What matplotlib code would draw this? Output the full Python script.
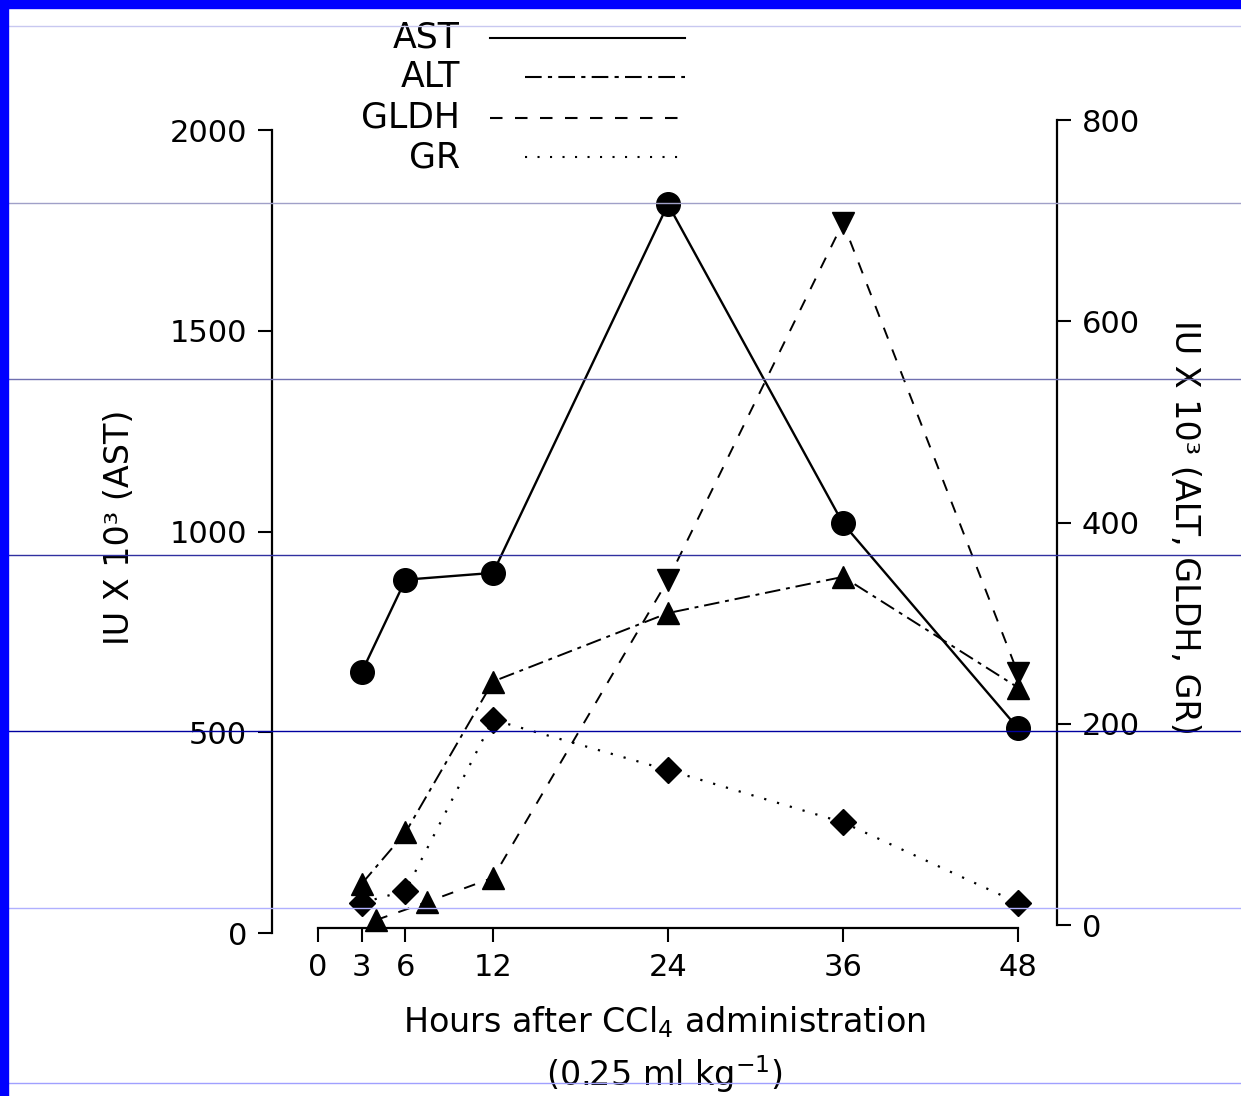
import matplotlib.pyplot as plt
from matplotlib.lines import Line2D
from matplotlib.patches import Rectangle

plt.rcParams['font.family'] = ['DejaVu Sans']

# data (hours after dosing)
hours = [3, 6, 12, 24, 36, 48]
ast = [650, 880, 897, 1815, 1020, 510]          # left axis
alt = [41, 92, 242, 310, 346, 236]              # right axis
gldh_hours = [4, 7.5, 12, 24, 36, 48]
gldh = [5, 23, 47, 343, 698, 250]
gldh_markers = ['^', '^', '^', 'v', 'v', 'v']
gr = [22, 34, 204, 154, 102, 22]

x_ticks = [0, 3, 6, 12, 24, 36, 48]
left_ticks = [0, 500, 1000, 1500, 2000]
right_ticks = [0, 200, 400, 600, 800]

W, H = 1241, 1096
fig = plt.figure(figsize=(W / 100, H / 100), dpi=100)

# axes box in pixels
px_l, px_r, px_t, px_b = 272, 1057, 115, 940
ax = fig.add_axes([px_l / W, 1 - px_b / H, (px_r - px_l) / W, (px_b - px_t) / H])
ax2 = ax.twinx()

ax.set_xlim(-3.154, 50.674)
ax.set_ylim(-17.4, 2037.4)
ax2.set_ylim(-14.9, 805.0)

# AST
ax.plot(hours, ast, color='black', lw=1.7, marker='o', ms=17, zorder=3)
# ALT
ax2.plot(hours, alt, color='black', lw=1.4, ls=(0, (8, 3, 2, 3)),
         marker='^', ms=16, zorder=3)
# GLDH
ax2.plot(gldh_hours, gldh, color='black', lw=1.4, ls=(0, (6, 6)), zorder=3)
for m in set(gldh_markers):
    xs = [h for h, mk in zip(gldh_hours, gldh_markers) if mk == m]
    ys = [v for v, mk in zip(gldh, gldh_markers) if mk == m]
    ax2.plot(xs, ys, ls='none', marker=m, ms=16, color='black', zorder=4)
# GR
ax2.plot(hours, gr, color='black', lw=1.6, ls=(0, (1, 5)),
         marker='D', ms=13, zorder=3)

# spines
for a in (ax, ax2):
    a.spines['top'].set_visible(False)
    a.patch.set_visible(False)
ax.spines['right'].set_visible(False)
ax2.spines['left'].set_visible(False)
ax2.spines['bottom'].set_visible(False)
ax.spines['left'].set_bounds(0, 2000)
ax2.spines['right'].set_bounds(0, 800)
ax.spines['bottom'].set_position(('axes', 0.01455))
ax.spines['bottom'].set_bounds(0, 48)
for sp in (ax.spines['left'], ax.spines['bottom'], ax2.spines['right']):
    sp.set_linewidth(1.6)

ax.set_xticks(x_ticks)
ax.set_yticks(left_ticks)
ax2.set_yticks(right_ticks)
ax.tick_params(axis='both', direction='out', length=10, width=1.5,
               labelsize=22, pad=8)
ax2.tick_params(axis='y', direction='out', length=10, width=1.5,
                labelsize=22, pad=8)

ax.set_ylabel('IU X 10³ (AST)', fontsize=24, labelpad=24)
ax2.set_ylabel('IU X 10³ (ALT, GLDH, GR)', fontsize=24, rotation=-90,
               labelpad=44)
ax.set_xlabel('Hours after CCl$_4$ administration\n(0.25 ml kg$^{-1}$)',
              fontsize=24, labelpad=16, linespacing=1.4)

# legend drawn by hand at top
leg_items = [('AST', '-', 490, 38), ('ALT', (0, (8, 3, 2, 3)), 525, 77),
             ('GLDH', (0, (6, 6)), 490, 118), ('GR', (0, (1, 5)), 525, 157)]
for name, ls, x0, y in leg_items:
    fig.text(460 / W, 1 - y / H, name, fontsize=25, ha='right', va='center')
    fig.add_artist(Line2D([x0 / W, 685 / W], [1 - y / H, 1 - y / H],
                          transform=fig.transFigure, color='black',
                          lw=1.5, ls=ls))

# scan artefacts: horizontal rules and blue frame
rules = [(26, '#c8c8f0'), (203, '#a0a0c8'), (379, '#7070b0'),
         (555, '#3030a0'), (731, '#0000a0'), (908, '#b0b0ff'),
         (1083, '#a0a0ff')]
for y, c in rules:
    fig.add_artist(Line2D([8 / W, 1], [1 - y / H, 1 - y / H],
                          transform=fig.transFigure, color=c, lw=1.0,
                          zorder=10))
fig.add_artist(Rectangle((0, 1 - 8 / H), 1, 8 / H, transform=fig.transFigure,
                         color='#0000ff', zorder=11))
fig.add_artist(Rectangle((0, 0), 8 / W, 1, transform=fig.transFigure,
                         color='#0000ff', zorder=11))

fig.savefig('out.png', dpi=100)
